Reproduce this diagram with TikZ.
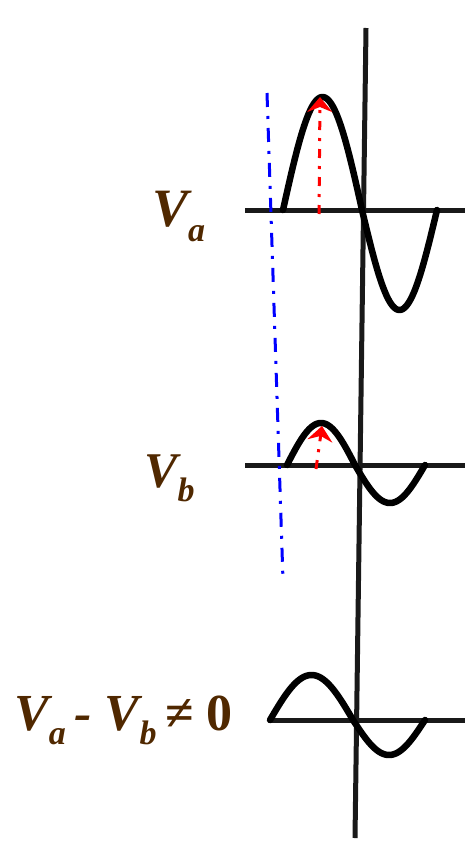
\documentclass[tikz,border=0pt]{standalone}
\usepackage{fontspec}
\setmainfont{Liberation Serif}
\usetikzlibrary{arrows.meta}
\definecolor{lblbrown}{RGB}{80,40,0}
\newcommand\lowsub[1]{\raisebox{-0.28em}{\fontsize{34}{34}\selectfont #1}}
\tikzset{
  wave/.style={line width=6.5pt, black, line join=round, line cap=round},
  axisline/.style={line width=5pt, black!90},
  guide/.style={blue, line width=3pt, dash pattern=on 14pt off 9pt on 3pt off 9pt},
  ampl/.style={red, line width=3pt, dash pattern=on 9pt off 8pt on 3pt off 8pt,
    -{Stealth[length=15pt,width=25pt,inset=5pt]}},
  lbl/.style={text=lblbrown, font=\bfseries\itshape, inner sep=0pt}
}
\begin{document}
\begin{tikzpicture}[x=1pt,y=-1pt]
\useasboundingbox (0,0) rectangle (465,843);
% vertical axis
\coordinate (vtop) at (366,28);
\coordinate (vbot) at (355,838);
\draw[axisline] (vtop) -- (vbot);
% horizontal axes
\coordinate (aL) at (245,210); \coordinate (aR) at (465,210);
\coordinate (bL) at (245,465); \coordinate (bR) at (465,465);
\coordinate (cL) at (270,720); \coordinate (cR) at (465,720);
\draw[axisline] (aL) -- (aR);
\draw[axisline] (bL) -- (bR);
\draw[axisline] (cL) -- (cR);
% Va wave
\draw[wave] plot[domain=0:180,samples=50] ({283+79*\x/180},{210-113*sin(\x)})
  -- plot[domain=0:180,samples=50] ({362+75*\x/180},{210+100*sin(\x)});
% Vb wave
\draw[wave] plot[domain=0:180,samples=50] ({287+68*\x/180},{465-42*sin(\x)})
  -- plot[domain=0:180,samples=50] ({355+70*\x/180},{465+38*sin(\x)});
% difference wave
\draw[wave] plot[domain=0:180,samples=50] ({270+83*\x/180},{720-45*sin(\x)})
  -- plot[domain=0:180,samples=50] ({353+72*\x/180},{720+35*sin(\x)});
% blue guide line
\coordinate (gtop) at (267,93);
\coordinate (gbot) at (283,580);
\draw[guide] (gtop) -- (gbot);
% red amplitude arrows
\coordinate (ra0) at (319,214); \coordinate (ra1) at (320,97);
\coordinate (rb0) at (316,469); \coordinate (rb1) at (322,426);
\draw[ampl] (ra0) -- (ra1);
\draw[ampl] (rb0) -- (rb1);
% labels
\node[lbl, anchor=base west, font=\fontsize{54}{54}\selectfont\bfseries\itshape] (la) at (152,226) {V\lowsub{a}};
\node[lbl, anchor=base west, font=\fontsize{50}{50}\selectfont\bfseries\itshape] (lb) at (144,487) {V\lowsub{b}};
\node[lbl, anchor=base west, font=\fontsize{52}{52}\selectfont\bfseries\itshape] (ld) at (14,730) {V\lowsub{a}\,- V\lowsub{b}\,{\upshape ≠ 0}};
\end{tikzpicture}
\end{document}
